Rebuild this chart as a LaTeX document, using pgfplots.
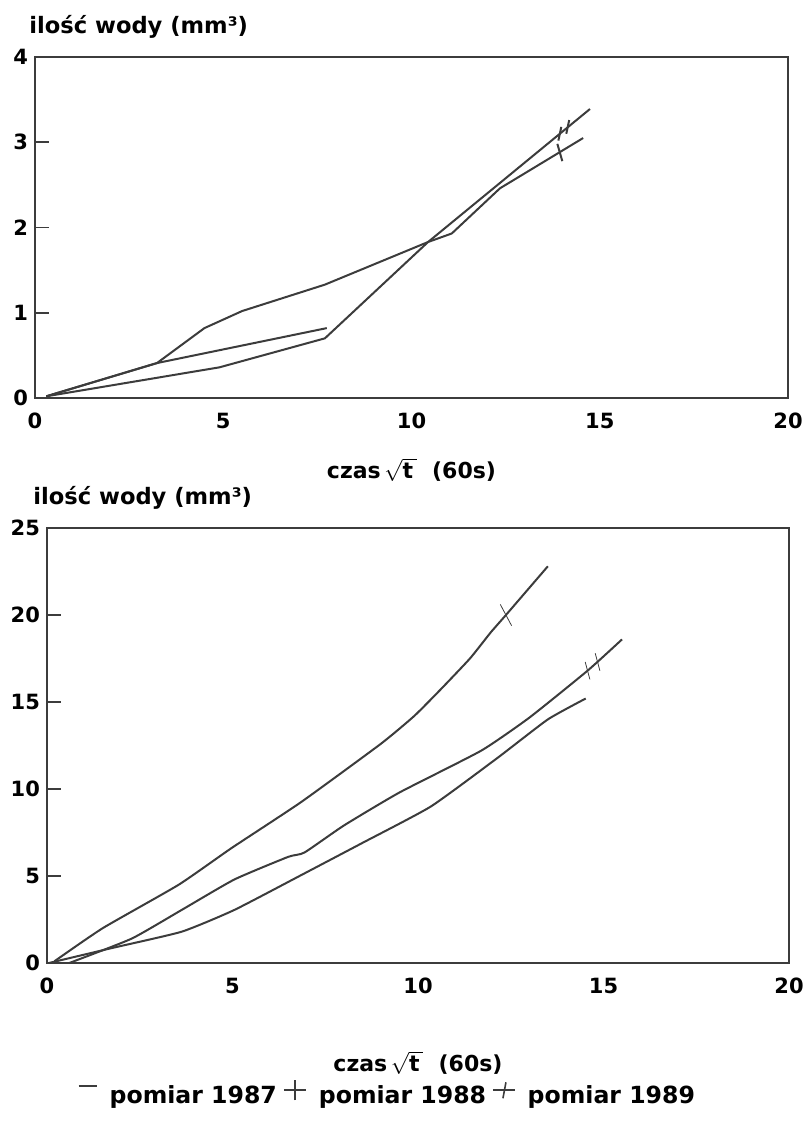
\documentclass[border=0pt]{standalone}
\usepackage{pgfplots}
\pgfplotsset{compat=1.18}
\usepackage{fontspec}
\setmainfont{DejaVu Sans}

\definecolor{ink}{RGB}{60,60,60}

\pgfplotsset{
  wody/.style={
    scale only axis,
    xmin=0, xmax=20,
    xtick={0,5,10,15,20},
    xtick pos=left, ytick pos=left,
    tick align=inside,
    major tick length=7pt,
    x tick style={draw=none},
    y tick style={line width=0.9pt, ink},
    axis line style={line width=1.2pt, ink},
    /pgf/number format/assume math mode=true,
    ticklabel style={font=\fontsize{10.5}{12}\selectfont\bfseries},
    xticklabel style={yshift=-4pt},
    title style={at={(0,1)}, anchor=base west, yshift=6pt, xshift=-3pt,
      inner sep=0pt, font=\fontsize{11.3}{13}\selectfont\bfseries},
    xlabel style={at={(0.5,0)}, anchor=center,
      font=\fontsize{11}{13}\selectfont\bfseries},
  },
  curve/.style={ink, line width=1pt, no marks},
  tick1988/.style={ink, only marks, mark=|, mark size=4.5pt,
    mark options={rotate=16, line width=1pt}, forget plot},
  tick1989/.style={ink, only marks, mark=|, mark size=3.5pt,
    mark options={rotate=-12, line width=1pt}, forget plot},
}

\begin{document}
\begin{tikzpicture}
\path[use as bounding box] (0,0) rectangle (403pt,-568.5pt);

% gorny wykres
\begin{axis}[wody,
  width=376.5pt, height=170.5pt,
  at={(17.5pt,-199pt)}, anchor=south west,
  ymin=0, ymax=4, ytick={0,1,2,3,4},
  title={ilość wody (mm³)},
  xlabel={czas\,$\sqrt{\mbox{t}\,}$\ \ (60s)},
  xlabel style={yshift=-36pt},
]
% 1987
\addplot[curve] coordinates {(0.3,0.02) (3.24,0.41) (7.75,0.82)};
% 1988
\addplot[curve] coordinates {(0.3,0.02) (3.24,0.41) (4.5,0.82) (5.5,1.02) (7.7,1.33)
  (10.44,1.83) (11.07,1.93) (12.35,2.46) (14.56,3.05)};
% 1989
\addplot[curve] coordinates {(0.3,0.02) (4.9,0.36) (7.7,0.70) (10.44,1.83) (14.74,3.39)};
\addplot[tick1988] coordinates {(13.94,2.88)};
\addplot[tick1989] coordinates {(13.94,3.10) (14.15,3.18)};
\end{axis}

% dolny wykres
\begin{axis}[wody,
  width=371pt, height=217.5pt,
  at={(23.5pt,-481.5pt)}, anchor=south west,
  ymin=0, ymax=25, ytick={0,5,10,15,20,25},
  title={ilość wody (mm³)},
  title style={xshift=-4pt},
  xlabel={czas\,$\sqrt{\mbox{t}\,}$\ \ (60s)},
  xlabel style={yshift=-50pt},
  legend columns=3,
  legend style={at={(0.46,0)}, anchor=center, yshift=-66pt, draw=none,
    fill=none, font=\fontsize{11.8}{13}\selectfont\bfseries,
    /tikz/every even column/.append style={column sep=1pt},
    /tikz/every odd column/.append style={column sep=4pt}},
]
\addplot[curve, smooth, tension=0.3, legend image code/.code={
    \draw[line width=1pt, ink] (0pt,5pt) -- (9pt,5pt);}]
  coordinates {(0.05,0) (1.75,0.86) (3.63,1.8) (5.05,3.05) (6.85,5.05)
  (8.5,6.9) (10.35,9.0) (12.15,11.8) (13.5,14.0) (14.52,15.2)};
\addlegendentry{pomiar 1987}
\addplot[curve, smooth, tension=0.3, legend image code/.code={
    \draw[line width=1pt, ink] (0pt,3pt) -- (11pt,3pt);
    \draw[line width=1pt, ink] (5.5pt,-2pt) -- (5.5pt,8pt);}]
  coordinates {(0.2,0.1) (1.5,2.0) (3.55,4.5) (4.97,6.6) (6.85,9.25)
  (9.0,12.6) (9.9,14.2) (10.6,15.7) (11.4,17.5) (11.96,19.0) (12.37,20.0)
  (13.5,22.8)};
\addlegendentry{pomiar 1988}
\addplot[curve, smooth, tension=0.3, legend image code/.code={
    \draw[line width=0.8pt, ink] (0pt,3pt) -- (11pt,3pt);
    \draw[line width=0.8pt, ink] (5pt,-1pt) -- (6.5pt,7pt);}]
  coordinates {(0.6,0) (2.28,1.4) (3.63,3.05) (5.05,4.8) (6.5,6.1)
  (6.94,6.35) (8.0,7.9) (9.5,9.8) (11.7,12.2) (13.0,14.1) (14.57,16.8)
  (15.5,18.6)};
\addlegendentry{pomiar 1989}
\addplot[tick1988, mark size=6pt, mark options={rotate=28}] coordinates {(12.37,20.0)};
\addplot[tick1989, mark size=4.5pt, mark options={rotate=15}] coordinates {(14.57,16.8) (14.84,17.3)};
\end{axis}
\end{tikzpicture}
\end{document}
